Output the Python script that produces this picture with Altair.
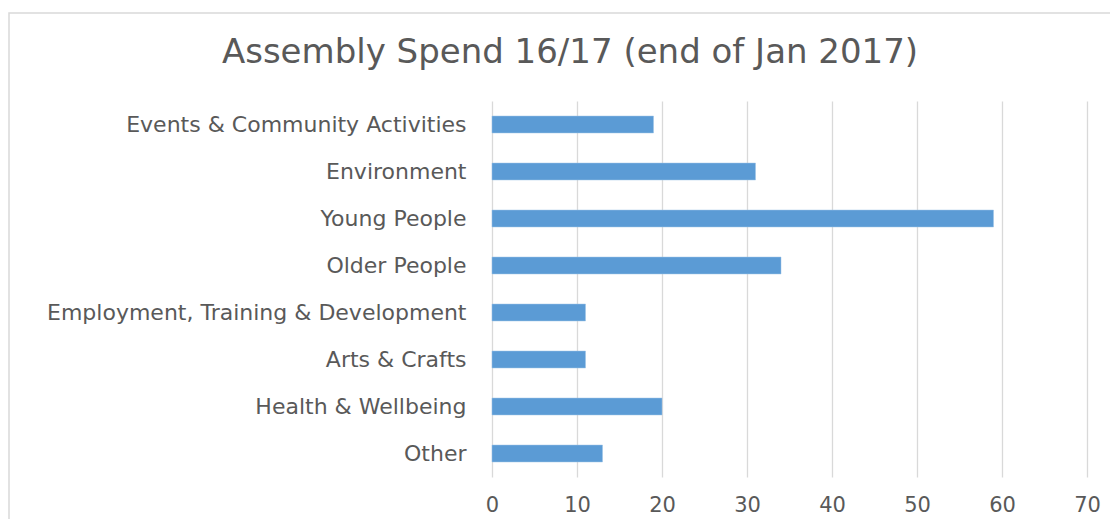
import altair as alt
import pandas as pd

categories = [
    "Events & Community Activities",
    "Environment",
    "Young People",
    "Older People",
    "Employment, Training & Development",
    "Arts & Crafts",
    "Health & Wellbeing",
    "Other",
]
values = [19, 31, 59, 34, 11, 11, 20, 13]
x_ticks = [0, 10, 20, 30, 40, 50, 60, 70]
title_text = "Assembly Spend 16/17 (end of Jan 2017)"

df = pd.DataFrame({"category": categories, "value": values})

FONT = "DejaVu Sans"
GREY = "#595959"

bars = alt.Chart(df).mark_bar(color="#5b9bd5", stroke="#9dc3e6", strokeWidth=0.5).encode(
    y=alt.Y(
        "category:N",
        sort=categories,
        title=None,
        scale=alt.Scale(paddingInner=0.64, paddingOuter=0.32),
        axis=alt.Axis(
            domain=False, ticks=False, grid=False, labelPadding=26,
            labelFont=FONT, labelFontSize=22, labelColor=GREY, labelLimit=600,
        ),
    ),
    x=alt.X(
        "value:Q",
        title=None,
        scale=alt.Scale(domain=[0, 70], nice=False),
        axis=alt.Axis(
            values=x_ticks, domain=False, ticks=False, grid=True,
            gridColor="#d9d9d9", gridWidth=1.3, labelPadding=17,
            labelFlush=False, labelOverlap=False,
            labelFont=FONT, labelFontSize=21, labelColor=GREY,
        ),
    ),
)

border = alt.Chart(alt.Data(values=[{}])).mark_rect(
    fill=None, stroke="#d9d9d9", strokeWidth=1.5
).encode(
    x=alt.value(-483), x2=alt.value(640),
    y=alt.value(-88), y2=alt.value(450),
)

title = alt.Chart(alt.Data(values=[{"t": title_text}])).mark_text(
    font=FONT, fontSize=34, color=GREY, align="center", baseline="alphabetic"
).encode(
    text="t:N",
    x=alt.value(78),
    y=alt.value(-38),
)

chart = alt.layer(border, bars, title).properties(
    width=595,
    height=376,
    background="white",
    autosize=alt.AutoSizeParams(type="none"),
    padding={"left": 484, "top": 93, "right": 23, "bottom": 42},
).configure_view(strokeWidth=0, stroke="transparent")

chart.save("out.html", embed_options={"renderer": "svg", "actions": False})
